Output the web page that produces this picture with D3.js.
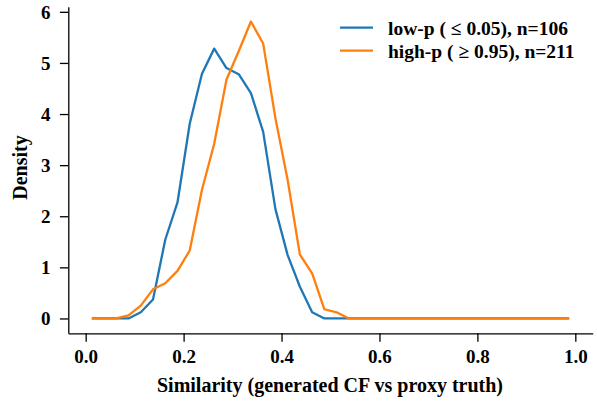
<!DOCTYPE html>
<html><head><meta charset="utf-8">
<script src="https://cdn.jsdelivr.net/npm/d3@7"></script>
<style>body{margin:0;background:#fff}svg{display:block}</style>
</head><body>
<svg id="c" width="597" height="401"></svg>
<script>
const binCenters = [0.0125,0.0375,0.0625,0.0875,0.1125,0.1375,0.1625,0.1875,0.2125,0.2375,0.2625,0.2875,0.3125,0.3375,0.3625,0.3875,0.4125,0.4375,0.4625,0.4875,0.5125,0.5375,0.5625,0.5875,0.6125,0.6375,0.6625,0.6875,0.7125,0.7375,0.7625,0.7875,0.8125,0.8375,0.8625,0.8875,0.9125,0.9375,0.9625,0.9875];
const lowP  = [0,0,0,0,0.12,0.37,1.54,2.27,3.81,4.79,5.28,4.90,4.78,4.41,3.65,2.14,1.24,0.62,0.12,0,0,0,0,0,0,0,0,0,0,0,0,0,0,0,0,0,0,0,0,0];
const highP = [0,0,0,0.06,0.25,0.57,0.69,0.93,1.33,2.52,3.42,4.67,5.23,5.81,5.38,3.92,2.71,1.25,0.88,0.18,0.12,0,0,0,0,0,0,0,0,0,0,0,0,0,0,0,0,0,0,0];
const seriesNames = ["low-p ( \u2264 0.05), n=106", "high-p ( \u2265 0.95), n=211"];
const seriesColors = ["#1f77b4", "#ff7f0e"];
const xTicks = [0,0.2,0.4,0.6,0.8,1.0];
const yTicks = [0,1,2,3,4,5,6];

const svg = d3.select("#c");
const font = "'Liberation Serif','Times New Roman',serif";
const x = d3.scaleLinear().domain([-0.0355,1.0355]).range([68.3,592.7]);
const y = d3.scaleLinear().domain([-0.2905,6.1005]).range([333.3,6.7]);

const line = d3.line().x(d=>x(d[0])).y(d=>y(d[1]));
[lowP, highP].forEach((s,i)=>{
  svg.append("path").datum(binCenters.map((c,j)=>[c,s[j]]))
    .attr("d",line).attr("fill","none").attr("stroke",seriesColors[i])
    .attr("stroke-width",2.3).attr("stroke-linejoin","round");
});

const xa = svg.append("g").attr("transform","translate(0,333.3)")
  .call(d3.axisBottom(x).tickValues(xTicks).tickFormat(d3.format(".1f")).tickSize(8.4).tickSizeOuter(0));
const ya = svg.append("g").attr("transform","translate(68.3,0)")
  .call(d3.axisLeft(y).tickValues(yTicks).tickFormat(d3.format("d")).tickSize(8.4).tickPadding(9.5).tickSizeOuter(0));
[xa,ya].forEach(a=>{
  a.select(".domain").attr("stroke","#000").attr("stroke-width",1.3);
  a.selectAll(".tick line").attr("stroke","#000").attr("stroke-width",1.3);
  a.selectAll("text").attr("font-family",font).attr("font-weight","bold").attr("font-size",19).attr("fill","#000");
});
xa.selectAll(".tick text").attr("y",30).attr("dy",0);
ya.selectAll(".tick text").attr("dy","0.33em");

svg.append("text").attr("x",330).attr("y",391.7).attr("text-anchor","middle")
  .attr("font-family",font).attr("font-weight","bold").attr("font-size",20).text("Similarity (generated CF vs proxy truth)");
svg.append("text").attr("transform","translate(27,167.5) rotate(-90)").attr("text-anchor","middle")
  .attr("font-family",font).attr("font-weight","bold").attr("font-size",20).text("Density");

const lg = svg.append("g");
seriesNames.forEach((n,i)=>{
  const yy = 27.7 + i*23;
  lg.append("line").attr("x1",340).attr("x2",373).attr("y1",yy).attr("y2",yy)
    .attr("stroke",seriesColors[i]).attr("stroke-width",2.3);
  lg.append("text").attr("x",388).attr("y",yy+7).attr("font-family",font).attr("font-weight","bold")
    .attr("font-size",19.5).text(n);
});
</script>
</body></html>
